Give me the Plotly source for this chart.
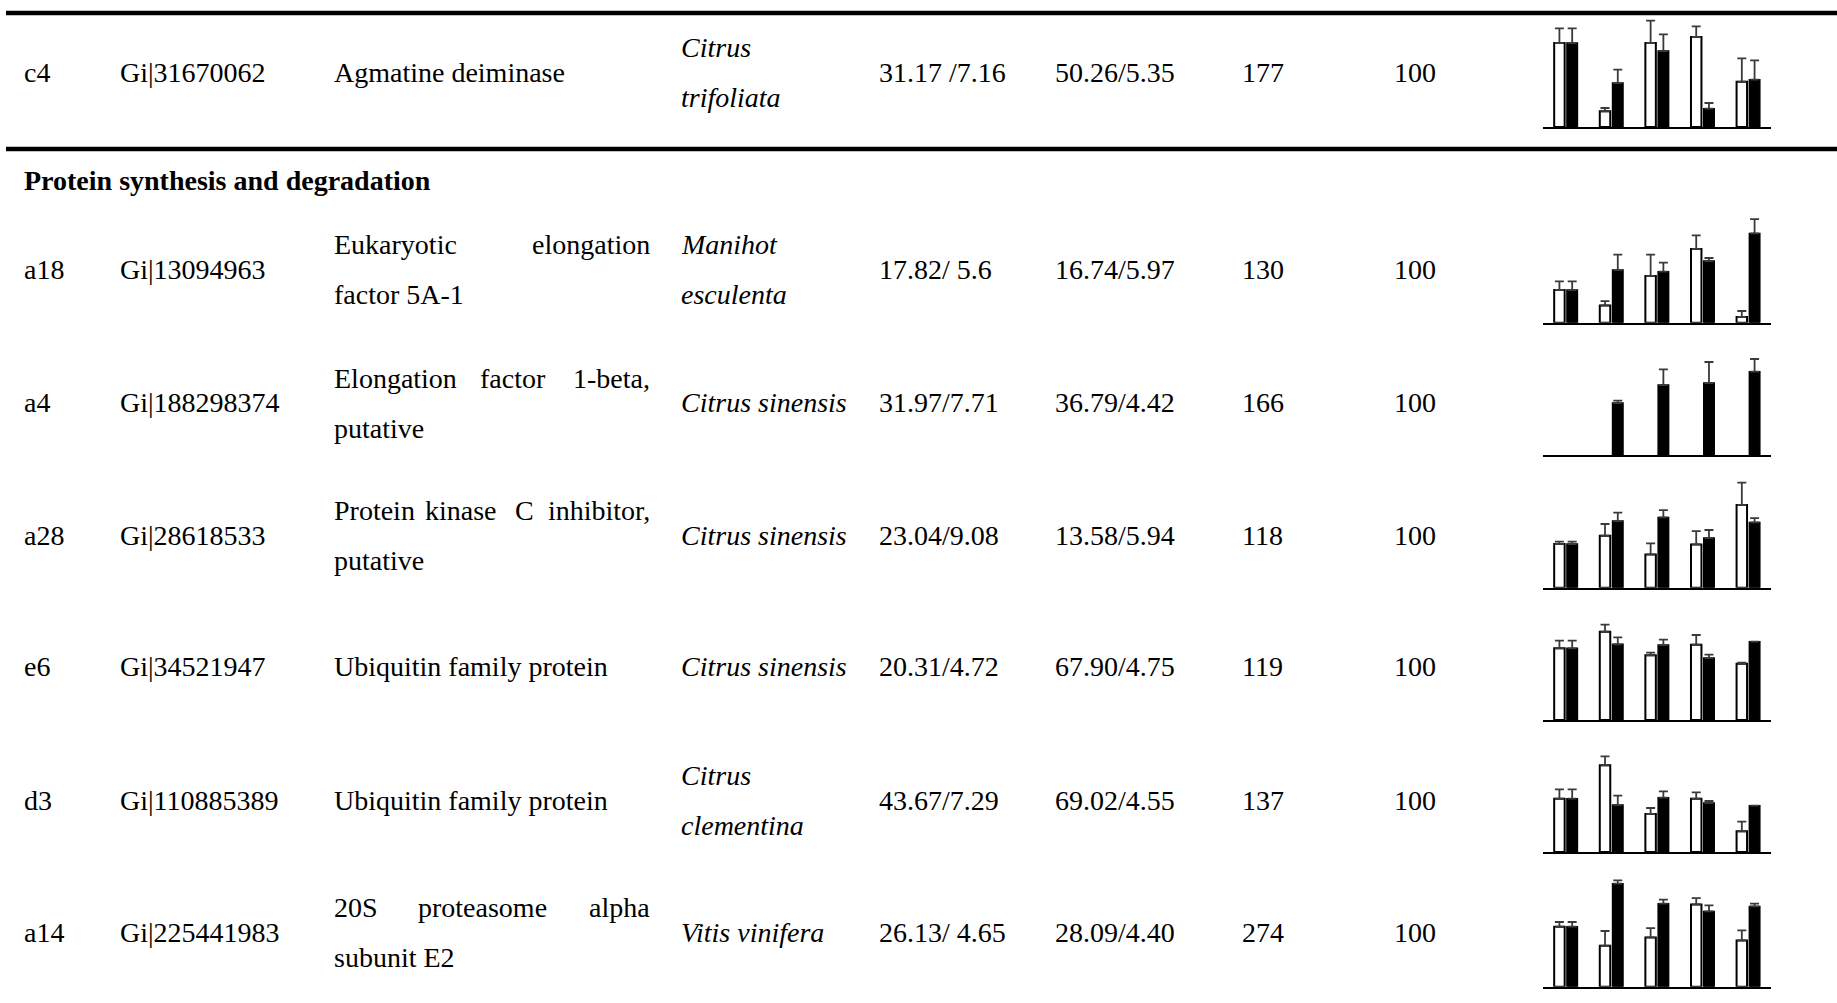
import plotly.graph_objects as go

W, H = 1837, 1003

# ---------------- data ----------------
spot_ids = ["c4", "a18", "a4", "a28", "e6", "d3", "a14"]
accessions = ["Gi|31670062", "Gi|13094963", "Gi|188298374", "Gi|28618533",
              "Gi|34521947", "Gi|110885389", "Gi|225441983"]
# description lines (justified words per line)
descriptions = [
    [["Agmatine deiminase"]],
    [["Eukaryotic", "elongation"], ["factor 5A-1"]],
    [["Elongation", "factor", "1-beta,"], ["putative"]],
    [["Protein", "kinase", "C", "inhibitor,"], ["putative"]],
    [["Ubiquitin family protein"]],
    [["Ubiquitin family protein"]],
    [["20S", "proteasome", "alpha"], ["subunit E2"]],
]
species = [["Citrus", "trifoliata"], ["Manihot", "esculenta"], ["Citrus sinensis"],
           ["Citrus sinensis"], ["Citrus sinensis"], ["Citrus", "clementina"],
           ["Vitis vinifera"]]
theo_mw_pi = ["31.17 /7.16", "17.82/ 5.6", "31.97/7.71", "23.04/9.08",
              "20.31/4.72", "43.67/7.29", "26.13/ 4.65"]
exp_mw_pi = ["50.26/5.35", "16.74/5.97", "36.79/4.42", "13.58/5.94",
             "67.90/4.75", "69.02/4.55", "28.09/4.40"]
scores = ["177", "130", "166", "118", "119", "137", "274"]
coverage = ["100", "100", "100", "100", "100", "100", "100"]
section_title = "Protein synthesis and degradation"

groups = [0, 1, 2, 3, 4]
white_vals = [
    [84, 15.7, 84, 90, 45.3],
    [32.7, 17.3, 46.7, 73.7, 5.7],
    [None, None, None, None, None],
    [43.7, 52, 33.3, 43.3, 82.7],
    [71.7, 88.3, 64.7, 75.3, 56.3],
    [53.3, 86.7, 38, 53.3, 20.7],
    [60, 41, 49.3, 82.3, 46.3],
]
white_errs = [
    [14.7, 3.3, 22.3, 10.7, 23.3],
    [8.7, 4.3, 21.3, 13.7, 6],
    [0, 0, 0, 0, 0],
    [2.3, 11.7, 11, 13.3, 22.3],
    [7.7, 7, 2.7, 9.7, 1],
    [9.3, 9, 6, 6.3, 9.7],
    [4.7, 14.7, 9.3, 6.3, 10],
]
black_vals = [
    [84, 44, 76, 18.3, 47.3],
    [32.7, 52.7, 51, 61.7, 89.3],
    [None, 52, 70, 72, 83.3],
    [43.7, 66.7, 70.3, 49.7, 65.3],
    [71.7, 75.7, 75, 62, 78.3],
    [53.3, 47, 54.3, 49, 46.3],
    [60, 103, 83, 75.3, 80.3],
]
black_errs = [
    [14.7, 13.3, 16.7, 5.7, 19.3],
    [8.7, 15.3, 9, 3, 14.3],
    [0, 2.3, 15.7, 21, 12.7],
    [2.3, 8.3, 7.3, 8, 4.3],
    [7.7, 7, 5.3, 3.3, 0],
    [9.3, 9.3, 6.3, 2, 0],
    [4.7, 3.3, 4, 6, 2.7],
]

# ---------------- layout geometry (pixels) ----------------
row_text_y = [72.6, 269.5, 403, 535.4, 666.6, 800, 932.6]
chart_base_y = [127, 322.7, 455, 587.7, 720, 852, 986.7]
chart_x0, chart_x1 = 1543, 1771
chart_h = 110
line_gap = 25
col_x = {"id": 22, "acc": 118, "desc": 332, "desc_r": 652, "sp": 679,
         "theo": 877, "exp": 1053, "score": 1240, "cov": 1392}
mid_word_centers = {2: [513], 3: [461, 524], 6: [483]}

FONT = "Liberation Serif"
FS = 28


def px(x):
    return x / W


def py(y):
    return 1 - y / H


fig = go.Figure()
annotations = []


def add_text(text, x, y, anchor="left", italic=False):
    t = f"<i>{text}</i>" if italic else text
    annotations.append(dict(text=t, x=px(x), y=py(y), xref="paper", yref="paper",
                            xanchor=anchor, yanchor="middle", showarrow=False,
                            font=dict(family=FONT, size=FS, color="black")))


for i in range(len(spot_ids)):
    yc = row_text_y[i]
    add_text(spot_ids[i], col_x["id"], yc)
    add_text(accessions[i], col_x["acc"], yc)
    # description
    lines = descriptions[i]
    n = len(lines)
    for li, words in enumerate(lines):
        ly = yc + (li - (n - 1) / 2) * 2 * line_gap
        if len(words) == 1:
            add_text(words[0], col_x["desc"], ly)
        else:
            add_text(words[0], col_x["desc"], ly)
            add_text(words[-1], col_x["desc_r"], ly, anchor="right")
            for w, cx in zip(words[1:-1], mid_word_centers.get(i, [])):
                add_text(w, cx, ly, anchor="center")
    sp = species[i]
    for si, s in enumerate(sp):
        ly = yc + (si - (len(sp) - 1) / 2) * 2 * line_gap
        add_text(s, col_x["sp"], ly, italic=True)
    add_text(theo_mw_pi[i], col_x["theo"], yc)
    add_text(exp_mw_pi[i], col_x["exp"], yc)
    add_text(scores[i], col_x["score"], yc)
    add_text(coverage[i], col_x["cov"], yc)

annotations.append(dict(text=f"<b>{section_title}</b>", x=px(22), y=py(180.5),
                        xref="paper", yref="paper", xanchor="left", yanchor="middle",
                        showarrow=False, font=dict(family=FONT, size=FS, color="black")))

# ---------------- mini bar charts ----------------
layout_axes = {}
for i in range(len(spot_ids)):
    k = "" if i == 0 else str(i + 1)
    xa, ya = "x" + k, "y" + k
    fig.add_trace(go.Bar(
        x=groups, y=white_vals[i], xaxis=xa, yaxis=ya,
        marker=dict(color="white", line=dict(color="black", width=2)),
        error_y=dict(type="data", array=white_errs[i], arrayminus=[0] * 5,
                     symmetric=False, color="#3a3a3a", thickness=1.8, width=4.5),
        cliponaxis=False, showlegend=False, hoverinfo="skip"))
    fig.add_trace(go.Bar(
        x=groups, y=black_vals[i], xaxis=xa, yaxis=ya,
        marker=dict(color="black", line=dict(color="black", width=1.5)),
        error_y=dict(type="data", array=black_errs[i], arrayminus=[0] * 5,
                     symmetric=False, color="#3a3a3a", thickness=1.8, width=4.5),
        cliponaxis=False, showlegend=False, hoverinfo="skip"))
    base = chart_base_y[i]
    layout_axes["xaxis" + k] = dict(domain=[px(chart_x0), px(chart_x1)], range=[-0.5, 4.5],
                                    anchor=ya, showline=True, linecolor="black", linewidth=1.6,
                                    showticklabels=False, ticks="", showgrid=False,
                                    zeroline=False, fixedrange=True)
    layout_axes["yaxis" + k] = dict(domain=[py(base), py(base - chart_h)], range=[0, chart_h],
                                    anchor=xa, visible=False, showgrid=False, zeroline=False,
                                    fixedrange=True)

# ---------------- rules ----------------
shapes = [
    dict(type="line", xref="paper", yref="paper", x0=px(6), x1=1, y0=py(13), y1=py(13),
         line=dict(color="black", width=4.5)),
    dict(type="line", xref="paper", yref="paper", x0=px(6), x1=1, y0=py(149), y1=py(149),
         line=dict(color="black", width=4.5)),
]

fig.update_layout(
    width=W, height=H, margin=dict(l=0, r=0, t=0, b=0),
    paper_bgcolor="white", plot_bgcolor="rgba(0,0,0,0)",
    barmode="group", bargap=0.44, bargroupgap=0.18,
    annotations=annotations, shapes=shapes, showlegend=False,
    **layout_axes,
)

fig.write_html("out.html", config={"displayModeBar": False})
